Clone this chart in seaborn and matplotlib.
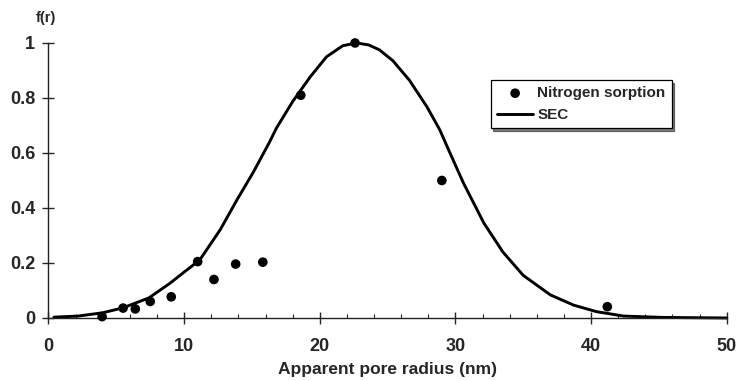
import matplotlib
matplotlib.use("Agg")
import matplotlib.pyplot as plt
import seaborn as sns
from matplotlib.ticker import MultipleLocator

# nitrogen sorption points
n2_r = [3.95, 5.5, 6.4, 7.5, 9.05, 11.0, 12.2, 13.8, 15.8, 18.6, 22.6, 29.0, 41.2]
n2_f = [0.005, 0.036, 0.033, 0.06, 0.077, 0.205, 0.14, 0.196, 0.203, 0.81, 1.0, 0.50, 0.041]

# SEC curve, traced by eye
sec_r = [0.4, 2.2, 4.0, 5.5, 7.4, 8.95, 9.9, 11.15, 12.65, 13.9, 15.1, 16.3, 16.8, 18.0,
         19.3, 20.5, 21.7, 22.7, 23.6, 24.4, 25.4, 26.6, 27.9, 28.85, 29.6, 30.6, 32.1,
         33.5, 35.0, 37.0, 38.7, 40.4, 42.4, 45.3, 50.0]
sec_f = [0.003, 0.007, 0.019, 0.037, 0.073, 0.126, 0.163, 0.211, 0.32, 0.43, 0.53, 0.64,
         0.69, 0.787, 0.877, 0.95, 0.99, 1.0, 0.993, 0.975, 0.935, 0.865, 0.768, 0.684,
         0.6, 0.49, 0.345, 0.24, 0.155, 0.084, 0.047, 0.023, 0.007, 0.002, 0.0]

sns.set_style("ticks")
plt.rcParams["font.family"] = ["Liberation Sans", "DejaVu Sans"]

fig = plt.figure(figsize=(7.37, 3.81), dpi=100)
ax = fig.add_axes([0.0658, 0.1654, 0.9202, 0.7218])

sns.scatterplot(x=n2_r, y=n2_f, ax=ax, color="black", s=48, edgecolor="none",
                label="Nitrogen sorption", clip_on=False, zorder=3)
sns.lineplot(x=sec_r, y=sec_f, ax=ax, color="black", linewidth=2.1,
             label="SEC", clip_on=False, zorder=2)

ax.set_xlim(0, 50)
ax.set_ylim(0, 1)
ax.xaxis.set_major_locator(MultipleLocator(10))
ax.xaxis.set_minor_locator(MultipleLocator(2))
ax.set_yticks([0, 0.2, 0.4, 0.6, 0.8, 1.0])
ax.set_yticklabels(["0", "0.2", "0.4", "0.6", "0.8", "1"])

sns.despine(ax=ax)
for s in ["left", "bottom"]:
    ax.spines[s].set_linewidth(1.0)
    ax.spines[s].set_color("#222222")

ax.tick_params(axis="x", which="major", direction="inout", length=9, width=1,
               pad=10, labelsize=13)
ax.tick_params(axis="x", which="minor", direction="in", length=3, width=0.8)
ax.tick_params(axis="y", which="major", direction="inout", length=9, width=1,
               pad=5, labelsize=13)
for lab in ax.get_xticklabels() + ax.get_yticklabels():
    lab.set_fontweight("bold")

ax.set_xlabel("Apparent pore radius (nm)", fontsize=12.5, fontweight="bold", labelpad=5)
ax.set_ylabel("")
ax.text(-0.004, 1.065, "f(r)", transform=ax.transAxes, ha="center", va="bottom",
        fontsize=10.5, fontweight="bold")

leg = ax.legend(loc="upper left", bbox_to_anchor=(0.652, 0.865), borderaxespad=0,
                frameon=True, fancybox=False, shadow={"color": "black"},
                edgecolor="black", framealpha=1, handlelength=2.4, handletextpad=0.25,
                labelspacing=0.5, borderpad=0.4,
                prop={"weight": "bold", "size": 11})
leg.get_frame().set_linewidth(0.9)

fig.savefig("out.png", dpi=100)
